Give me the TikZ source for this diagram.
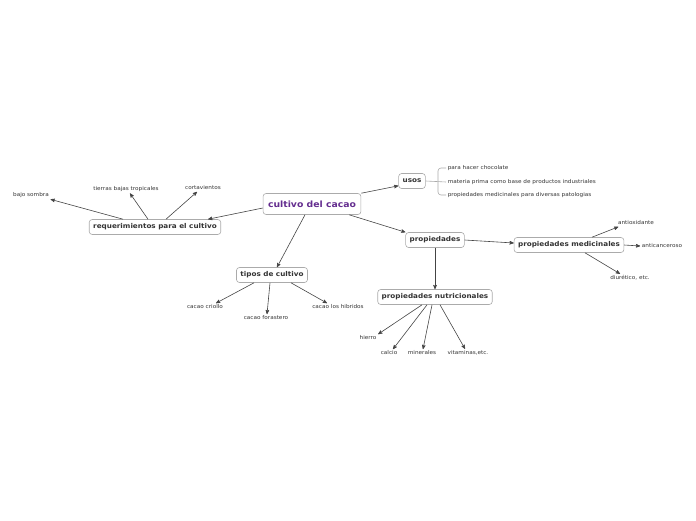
\documentclass[tikz,border=0pt]{standalone}
\usepackage{fontspec}
\setmainfont[FakeStretch=1.08]{DejaVu Sans}
\usetikzlibrary{arrows}
\definecolor{boxline}{HTML}{ABABAB}
\definecolor{inktext}{HTML}{333333}
\definecolor{edgeink}{HTML}{444444}
\definecolor{titlepurple}{HTML}{642D8F}
\tikzset{
  topic/.style = {draw=boxline, fill=white, rounded corners=3pt,
    font=\fontsize{6.7}{7}\selectfont\bfseries, text=inktext,
    inner xsep=4pt, minimum height=15pt, line width=0.6pt},
  centraltopic/.style = {topic, font=\fontsize{8.6}{9}\selectfont\bfseries,
    text=titlepurple, inner xsep=5pt, minimum height=21pt},% tema central
  leaf/.style = {font=\fontsize{5.3}{6}\selectfont, text=inktext,
    inner sep=1.5pt},% hojas sin caja
}
\begin{document}
\begin{tikzpicture}[x=1pt,y=-1pt,->,>=stealth',edgeink,line width=0.6pt]
\useasboundingbox (0,0) rectangle (696,520);
% temas
\node [centraltopic] (cultivo) at (312,204) {cultivo del cacao};
\node [topic] (req) at (155,227) {requerimientos para el cultivo};
\node [topic] (usos) at (412,181) {usos};
\node [topic] (prop) at (435,240) {propiedades};
\node [topic] (tipos) at (272,275) {tipos de cultivo};
\node [topic] (nutri) at (435,297) {propiedades nutricionales};
\node [topic] (medic) at (569,245) {propiedades medicinales};
% hojas
\node [leaf] (sombra) at (31,195) {bajo sombra};
\node [leaf] (tierras) at (126,189) {tierras bajas tropicales};
\node [leaf] (cortav) at (203,188) {cortavientos};
\node [leaf, anchor=west] (choco) at (446,168) {para hacer chocolate};
\node [leaf, anchor=west] (materia) at (446,182) {materia prima como base de productos industriales};
\node [leaf, anchor=west] (patol) at (446,195) {propiedades medicinales para diversas patologias};
\node [leaf] (antiox) at (636,223) {antioxidante};
\node [leaf] (antican) at (662,246) {anticanceroso};
\node [leaf] (diur) at (630,278) {diurético, etc.};
\node [leaf] (criollo) at (205,307) {cacao criollo};
\node [leaf] (foras) at (266,318) {cacao forastero};
\node [leaf] (hibr) at (338,307) {cacao los hibridos};
\node [leaf] (hierro) at (368,338) {hierro};
\node [leaf] (calcio) at (389,353) {calcio};
\node [leaf] (miner) at (422,353) {minerales};
\node [leaf] (vitam) at (468,353) {vitaminas,etc.};
% ramas
\draw ([yshift=-4pt]cultivo.west) -- ([xshift=-13pt]req.north east);
\draw (cultivo.north east) -- ([yshift=3pt]usos.south west);
\draw ([xshift=-12pt]cultivo.south east) -- (prop.north west);
\draw ([xshift=-7pt]cultivo.south) -- ([xshift=5pt]tipos.north);
\draw ([xshift=-32pt]req.north) -- (sombra.south east);
\draw ([xshift=-7pt]req.north) -- ([xshift=4pt]tierras.south);
\draw ([xshift=11pt]req.north) -- ([xshift=-6pt]cortav.south);
\draw ([xshift=-18pt]tipos.south) -- ([xshift=11pt]criollo.north);
\draw ([xshift=-2pt]tipos.south) -- ([xshift=1pt]foras.north);
\draw ([xshift=19pt]tipos.south) -- ([xshift=-11pt]hibr.north);
\draw (prop.south) -- (nutri.north);
\draw (prop.east) -- ([yshift=2pt]medic.west);
\draw ([xshift=-13pt]nutri.south) -- (hierro.north east);
\draw ([xshift=-8pt]nutri.south) -- ([xshift=4pt]calcio.north);
\draw ([xshift=-3pt]nutri.south) -- ([xshift=1pt]miner.north);
\draw ([xshift=5pt]nutri.south) -- ([xshift=-3pt]vitam.north);
\draw ([xshift=23pt]medic.north) -- ([xshift=2pt]antiox.south west);
\draw (medic.east) -- (antican.west);
\draw ([xshift=16pt]medic.south) -- ([xshift=-10pt]diur.north);
% llave de usos
\draw [-, boxline] (usos.east) -- (materia.west);
\draw [-, boxline, rounded corners=3pt] (choco.west) -| (438,182) |- (patol.west);
\end{tikzpicture}
\end{document}
